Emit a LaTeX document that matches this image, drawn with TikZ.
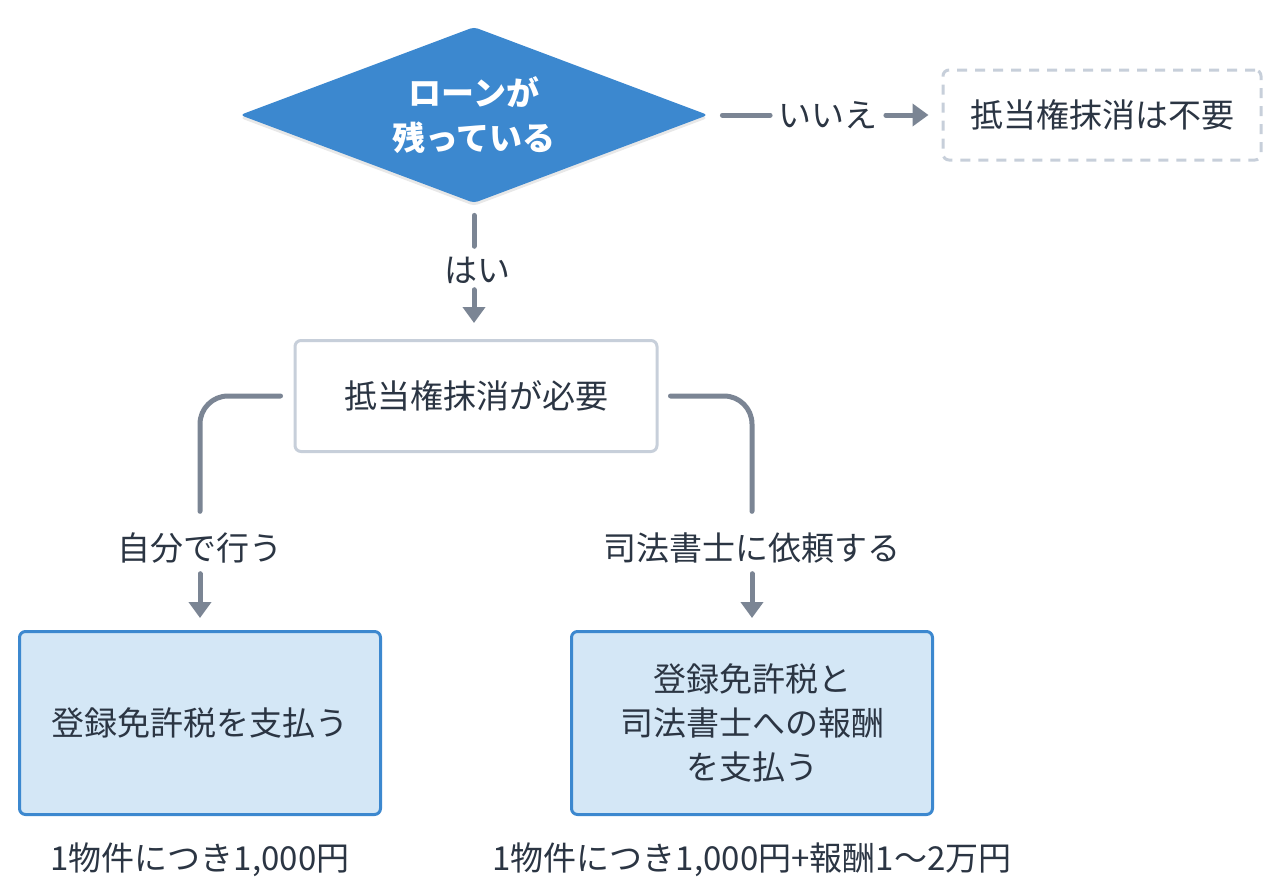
\documentclass[tikz,border=0pt]{standalone}
\usepackage{fontspec}
\setmainfont{Noto Sans CJK JP}
\usepackage{xcolor}
\usepackage{tikz}
\usetikzlibrary{shapes.geometric, arrows.meta, positioning, shadows}

\definecolor{qblue}{HTML}{3C88CF}
\definecolor{ink}{HTML}{2B3543}
\definecolor{rail}{HTML}{7B8594}
\definecolor{edge}{HTML}{C7CFDA}
\definecolor{paleblue}{HTML}{D4E7F6}

\begin{document}
\begin{tikzpicture}[
    x=0.5pt, y=-0.5pt,
    every node/.style={text=ink, font=\fontsize{16.5}{22.5}\selectfont},
    question/.style={diamond, aspect=2.66, fill=qblue, rounded corners=2pt, inner sep=0pt,
                     minimum width=234pt, minimum height=88pt, align=center,
                     text=white, font=\fontsize{16.5}{22.5}\selectfont\bfseries,
                     drop shadow={opacity=0.18, shadow xshift=0pt, shadow yshift=-1.5pt}},
    plainbox/.style={rectangle, draw=edge, line width=1.5pt, rounded corners=3pt,
                     fill=white, minimum width=181pt, minimum height=55.5pt, align=center},
    skipbox/.style={plainbox, dash pattern=on 5pt off 4pt,
                    minimum width=159pt, minimum height=45pt},
    paybox/.style={rectangle, draw=qblue, fill=paleblue, line width=1.5pt,
                   rounded corners=3pt, minimum width=180.5pt, minimum height=91.5pt,
                   align=center, font=\fontsize{16.5}{22}\selectfont},
    lbl/.style={inner sep=0pt},
    link/.style={draw=rail, line width=2.5pt, line cap=round},
    arrow/.style={link, -{Triangle[width=11pt, length=8pt]}}
]
    \useasboundingbox (0,0) rectangle (1280,894);

    % Decision and its two outcomes
    \node[question] (loan)  at (474, 115) {ローンが\\残っている};
    \node[skipbox]  (noneed) at (1102, 115) {抵当権抹消は不要};
    \node[plainbox] (need)  at (476, 396) {抵当権抹消が必要};

    % Two ways to do it
    \node[paybox] (self) at (200, 723) {登録免許税を支払う};
    \node[paybox] (pro)  at (752, 723) {登録免許税と\\司法書士への報酬\\を支払う};

    % Cost notes under the boxes
    \node[lbl] (selfcost) at (200, 860) {1物件につき1,000円};
    \node[lbl] (procost)  at (752, 860) {1物件につき1,000円+報酬1〜2万円};

    % Edge labels
    \node[lbl] (nolbl)   at (828, 115) {いいえ};
    \node[lbl] (yeslbl)  at (477, 270) {はい};
    \node[lbl] (selflbl) at (200, 548) {自分で行う};
    \node[lbl] (prolbl)  at (752, 548) {司法書士に依頼する};

    % ── loan No → noneed ──
    \draw[link, shorten <=7pt, shorten >=4pt] (loan.east) -- (nolbl.west);
    \draw[arrow, shorten <=4pt, shorten >=6.5pt] (nolbl.east) -- (noneed.west);

    % ── loan Yes → need ──
    \draw[link, shorten <=6pt, shorten >=5pt] (loan.south) -- (yeslbl.north -| loan.south);
    \draw[arrow, shorten <=3pt, shorten >=8pt] (yeslbl.south -| loan.south) -- (need.north -| loan.south);

    % ── need → left rail → self ──
    \draw[link, rounded corners=14pt, shorten <=6.5pt, shorten >=10.5pt]
        (need.west) -| (selflbl.north);
    \draw[arrow, shorten <=5pt, shorten >=6pt] (selflbl.south) -- (self.north);

    % ── need → right rail → pro ──
    \draw[link, rounded corners=14pt, shorten <=6pt, shorten >=10.5pt]
        (need.east) -| (prolbl.north);
    \draw[arrow, shorten <=5pt, shorten >=6pt] (prolbl.south) -- (pro.north);
\end{tikzpicture}
\end{document}
